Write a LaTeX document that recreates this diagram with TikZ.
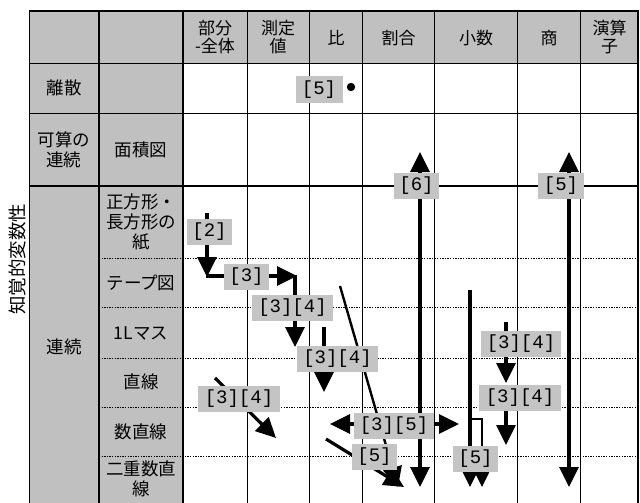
\documentclass[tikz,border=0pt]{standalone}
\usepackage{fontspec}
\setmainfont{Noto Sans CJK JP}
\newfontfamily\labfont{Liberation Mono}
\usetikzlibrary{arrows.meta}
\definecolor{cellGray}{RGB}{192,192,192}
\definecolor{tagGray}{RGB}{196,196,196}
\begin{document}
\begin{tikzpicture}[x=1pt,y=-1pt,
  thickline/.style={line width=1.8pt},
  thinline/.style={line width=0.8pt},
  dotline/.style={line width=0.9pt, dash pattern=on 1.3pt off 1.3pt},
  cell/.style={font=\fontsize{17.5}{20}\selectfont, align=center, inner sep=0},
  hd/.style={font=\fontsize{17}{18.5}\selectfont, align=center, inner sep=0},
  tag/.style={fill=tagGray, font=\labfont\fontsize{19}{19}\selectfont, inner sep=0, minimum height=26pt, minimum width=#1},
  arr/.style={line width=3.2pt, -{Triangle[length=20pt,width=19pt]}},
  arrtwo/.style={line width=3.2pt, {Triangle[length=20pt,width=19pt]}-{Triangle[length=20pt,width=19pt]}},
]
\useasboundingbox (0,0) rectangle (640,503);
\fill[white] (0,0) rectangle (640,503);
% gray fills
\fill[cellGray] (29.5,11) rectangle (638,63.5);
\fill[cellGray] (29.5,63.5) rectangle (183,503);
% dotted lines
\foreach \yy in {258,307,358,407,456}
  \draw[dotline] (99,\yy) -- (638,\yy);
% thin column lines
\foreach \xx in {247,309.5,362.5,434.5,517.5,580.5}
  \draw[thinline] (\xx,11) -- (\xx,503);
% thick lines
\foreach \xx in {29.5,99,183,638}
  \draw[thickline] (\xx,10.1) -- (\xx,503);
\foreach \yy in {11,63.5,113.5,186}
  \draw[thickline] (29.5,\yy) -- (638,\yy);

% header
\node[hd] (h1) at (215,37) {部分\\-全体};
\node[hd] (h2) at (278,37) {測定\\値};
\node[hd] (h3) at (336,38) {比};
\node[hd] (h4) at (398.5,38) {割合};
\node[hd] (h5) at (476,38) {小数};
\node[hd] (h6) at (549,38) {商};
\node[hd] (h7) at (609.5,37) {演算\\子};
% rows
\node[cell] (r1) at (64,88) {離散};
\node[cell] (r2) at (64,150) {可算の\\連続};
\node[cell] (r2b) at (141,150) {面積図};
\node[cell] (r3) at (64,347) {連続};
\node[cell] (s1) at (141,222) {正方形・\\長方形の\\紙};
\node[cell] (s2) at (141,283) {テープ図};
\node[cell] (s3) at (141,333) {1Lマス};
\node[cell] (s4) at (141,382) {直線};
\node[cell] (s5) at (141,432) {数直線};
\node[cell] (s6) at (141,479) {二重数直\\線};
\node[cell, font=\fontsize{18.5}{20}\selectfont, rotate=90] (side) at (17,259) {知覚的変数性};

% coordinates
\coordinate (a1s) at (207,213);
\coordinate (a1e) at (207,277);
\coordinate (a2s) at (205.5,276);
\coordinate (a2e) at (297,276);
\coordinate (a3s) at (295,274.5);
\coordinate (a3e) at (295,347);
\coordinate (a4s) at (324,327);
\coordinate (a4e) at (324,392);
\coordinate (a5s) at (340,286);
\coordinate (a5e) at (398,487);
\coordinate (a6s) at (215,378);
\coordinate (a6e) at (276,438);
\coordinate (a7s) at (330,424);
\coordinate (a7e) at (459,424);
\coordinate (a8s) at (326,439);
\coordinate (a8e) at (404,487);
\coordinate (a9s) at (420,152);
\coordinate (a9e) at (420,487);
\coordinate (a10s) at (569,152);
\coordinate (a10e) at (569,487);
\coordinate (a11s) at (470,290);
\coordinate (a11e) at (470,487);
\coordinate (a12s) at (470,419);
\coordinate (a12e) at (482,487);
\coordinate (a13s) at (506,322);
\coordinate (a13e) at (506,383);
\coordinate (a14s) at (506,385);
\coordinate (a14e) at (506,445);

% arrows
\draw[arr] (a1s) -- (a1e);
\draw[arr] (a2s) -- (a2e);
\draw[arr] (a3s) -- (a3e);
\draw[arr] (a4s) -- (a4e);
\draw[arr, line width=2.4pt] (a5s) -- (a5e);
\draw[arr] (a6s) -- (a6e);
\draw[arrtwo] (a7s) -- (a7e);
\draw[arr] (a8s) -- (a8e);
\draw[arrtwo] (a9s) -- (a9e);
\draw[arrtwo] (a10s) -- (a10e);
\draw[arr] (a11s) -- (a11e);
\draw[arr, line width=2.4pt] (a12s) -| (a12e);
\draw[arr] (a13s) -- (a13e);
\draw[arr] (a14s) -- (a14e);

% tags
\node[tag=47pt] (t1) at (319,89.5) {[5]};
\fill (351,87) circle (4.2pt);
\node[tag=45pt] (t2) at (416.5,186) {[6]};
\node[tag=46pt] (t3) at (561,186) {[5]};
\node[tag=45pt] (t4) at (209.5,231.5) {[2]};
\node[tag=45pt] (t5) at (246.5,277) {[3]};
\node[tag=81pt] (t6) at (292.5,308) {[3][4]};
\node[tag=81pt] (t7) at (337.5,358.5) {[3][4]};
\node[tag=82pt] (t8) at (239,399) {[3][4]};
\node[tag=80pt] (t9) at (394,425.5) {[3][5]};
\node[tag=45pt] (t10) at (374.5,456.5) {[5]};
\node[tag=45pt] (t11) at (475.5,459) {[5]};
\node[tag=80pt] (t12) at (521,344) {[3][4]};
\node[tag=82pt] (t13) at (520,398) {[3][4]};
\end{tikzpicture}
\end{document}
